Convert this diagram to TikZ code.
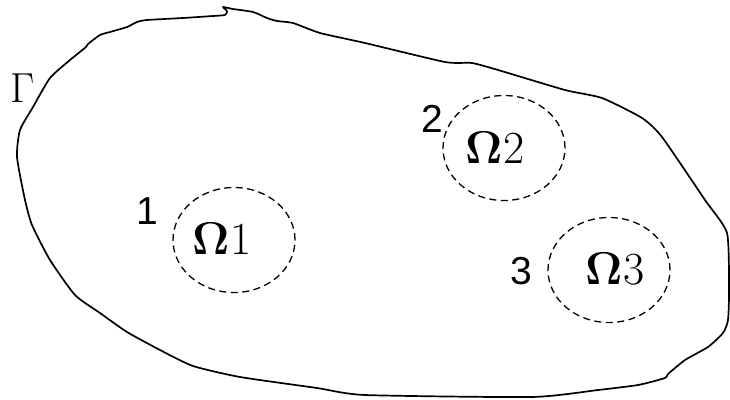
\documentclass[tikz,border=0pt]{standalone}
\usepackage{fontspec}
\newfontfamily\labsans{Liberation Sans}
\usetikzlibrary{shapes.geometric}
\tikzset{
  region/.style={ellipse, draw, line width=1.3pt, dash pattern=on 7pt off 4.5pt, minimum width=122pt, minimum height=105pt, inner sep=0pt},
  omegatext/.style={inner sep=0pt, font=\fontsize{46}{48}\selectfont},
  numlab/.style={inner sep=0pt, font=\labsans\fontsize{39}{41}\selectfont},
  boundary/.style={line width=1.7pt, line join=round}
}
\begin{document}
\begin{tikzpicture}[x=1pt,y=-1pt]
\useasboundingbox (0,0) rectangle (730,399);
% outer boundary Gamma
\draw[boundary] plot[smooth cycle, tension=0.35] coordinates {
 (17,157) (20,130) (33,107) (50,78) (70,60) (86,47) (88,44) (100,35) (110,32) (127,27) (137,22) (147,20)
 (183,18) (213,16) (225,15) (227,11) (223,7) (233,9) (253,12) (267,18) (277,21) (293,23)
 (320,33) (365,43) (445,62) (472,63) (498,70) (565,90) (602,98) (642,118) (662,137)
 (705,200) (727,233) (729,290) (728,320) (723,333) (708,347) (685,360) (668,374) (665,378)
 (638,385) (598,390) (532,397) (365,395) (317,388) (240,377) (193,366) (160,350)
 (127,332) (100,313) (75,295) (50,260) (32,225) (25,200)};
\node[inner sep=0pt, font=\fontsize{42}{44}\selectfont] (gamma) at (23,88) {Γ};
% subregions
\node[region] (c1) at (234,240) {};
\node[region] (c2) at (504,148) {};
\node[region] (c3) at (609,270) {};
\node[omegatext] (o1) at (222,238) {\textbf{Ω}1};
\node[omegatext] (o2) at (495,147) {\textbf{Ω}2};
\node[omegatext] (o3) at (615,269) {\textbf{Ω}3};
\node[numlab] (n1) at (147,211) {1};
\node[numlab] (n2) at (432,119) {2};
\node[numlab] (n3) at (521,271) {3};
\end{tikzpicture}
\end{document}
